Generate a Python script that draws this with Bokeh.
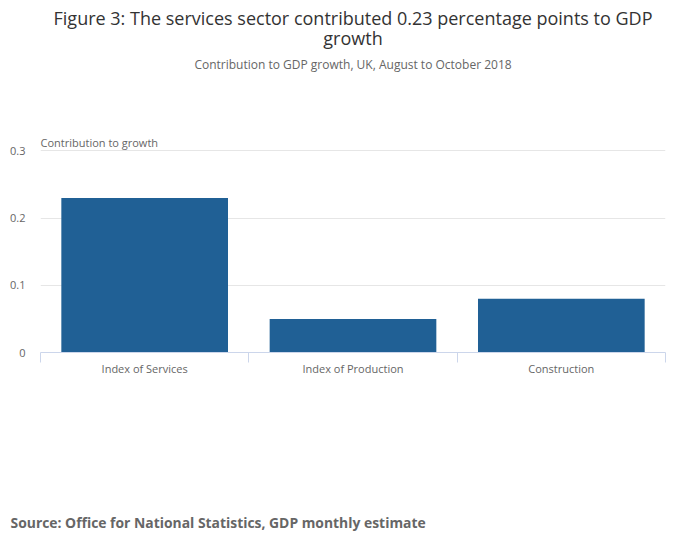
from bokeh.plotting import figure
from bokeh.models import Title, FixedTicker, Range1d
from bokeh.embed import file_html
from bokeh.resources import INLINE

categories = ["Index of Services", "Index of Production", "Construction"]
values = [0.23, 0.05, 0.08]
y_ticks = [0, 0.1, 0.2, 0.3]
y_tick_labels = ["0", "0.1", "0.2", "0.3"]

title_line1 = "Figure 3: The services sector contributed 0.23 percentage points to GDP"
title_line2 = "growth"
subtitle = "Contribution to GDP growth, UK, August to October 2018"
y_label = "Contribution to growth"
source = "Source: Office for National Statistics, GDP monthly estimate"

W, H = 700, 549
FL, FR, FT, FB = 40, 35, 149, 197
FONT = "Open Sans"

x_pos = [i + 0.5 for i in range(len(categories))]

p = figure(width=W, height=H, output_backend="svg", toolbar_location=None,
           x_range=Range1d(0, len(categories)), y_range=Range1d(0, 0.302),
           min_border_left=FL, min_border_right=FR, min_border_top=FT,
           min_border_bottom=FB)
p.outline_line_color = None
p.background_fill_color = "white"
p.border_fill_color = "white"

p.vbar(x=x_pos, top=values, width=0.8, color="#206095", line_color=None)

# x axis
xa = p.xaxis[0]
xa.ticker = FixedTicker(ticks=x_pos, minor_ticks=list(range(len(categories) + 1)))
xa.major_label_overrides = {x: c for x, c in zip(x_pos, categories)}
xa.major_tick_line_color = None
xa.major_tick_out = 0
xa.major_tick_in = 0
xa.minor_tick_line_color = "#ccd6eb"
xa.minor_tick_out = 10
xa.minor_tick_in = 0
xa.axis_line_color = "#ccd6eb"
xa.major_label_text_font = FONT
xa.major_label_text_font_size = "11px"
xa.major_label_text_color = "#666666"
xa.major_label_standoff = -2

# y axis
ya = p.yaxis[0]
ya.ticker = FixedTicker(ticks=y_ticks)
ya.major_label_overrides = {t: l for t, l in zip(y_ticks, y_tick_labels)}
ya.axis_line_color = None
ya.major_tick_line_color = None
ya.minor_tick_line_color = None
ya.major_tick_out = 0
ya.major_tick_in = 0
ya.major_label_standoff = 15
ya.major_label_text_font = FONT
ya.major_label_text_font_size = "11px"
ya.major_label_text_color = "#666666"

p.xgrid.grid_line_color = None
p.ygrid.grid_line_color = "#e6e6e6"
p.ygrid.ticker = FixedTicker(ticks=y_ticks[1:])


def make_title(text, size, color, align, style="normal", offset=0, standoff=0):
    return Title(text=text, text_font=FONT, text_font_size=size, text_color=color,
                 align=align, text_font_style=style, standoff=standoff, offset=offset)


def spacer(gap):
    return Title(text=" ", text_font_size="1px", standoff=gap)


# stacked outward from the frame
p.add_layout(make_title(y_label, "11px", "#666666", "left"), "above")
p.add_layout(spacer(50), "above")
p.add_layout(make_title(subtitle, "12px", "#666666", "center", standoff=14), "above")
p.add_layout(make_title(title_line2, "18px", "#333333", "center", standoff=-6), "above")
p.add_layout(make_title(title_line1, "18px", "#333333", "center", standoff=-6), "above")

p.add_layout(spacer(129), "below")
p.add_layout(make_title(source, "13.9px", "#666666", "left", style="bold", offset=-30), "below")

open("out.html", "w").write(file_html(p, INLINE))
